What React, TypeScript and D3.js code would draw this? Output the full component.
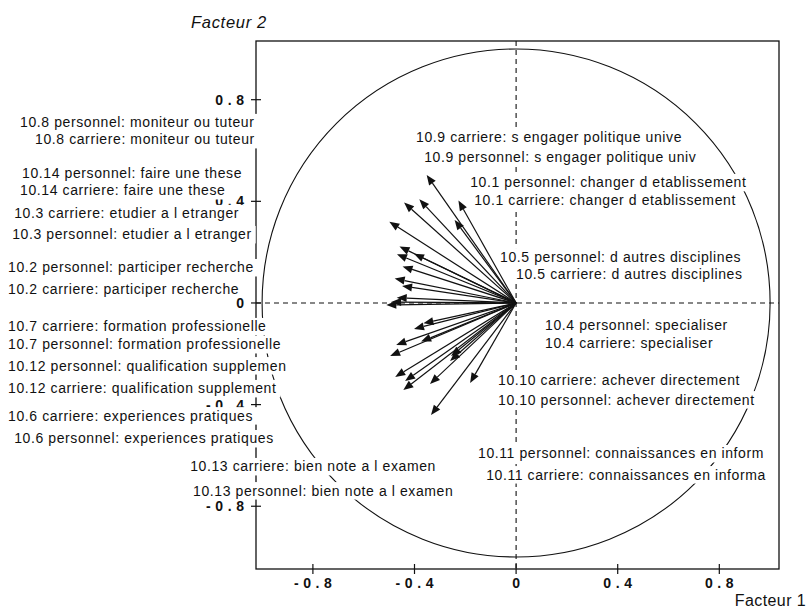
import React, { useEffect, useRef } from "react";
import * as d3 from "d3";

// Loadings of the 28 variables on factors 1 and 2
const loadF1 = [
  -0.352, -0.381, -0.441, -0.227, -0.242, -0.499, -0.459, -0.469, -0.402, -0.447,
  -0.478, -0.449, -0.47, -0.511, -0.492,
  -0.365, -0.402, -0.374, -0.472, -0.496, -0.256, -0.26, -0.476, -0.437, -0.444,
  -0.339, -0.181, -0.335,
];
const loadF2 = [
  0.504, 0.408, 0.395, 0.403, 0.327, 0.32, 0.222, 0.192, 0.194, 0.144,
  0.096, 0.067, 0.021, -0.008, 0.004,
  -0.08, -0.102, -0.152, -0.165, -0.209, -0.209, -0.228, -0.291, -0.307, -0.343,
  -0.319, -0.315, -0.441,
];

// Variable labels and their annotation anchors (in factor units)
const labelTexts = [
  "10.8 personnel: moniteur ou tuteur",
  "10.8 carriere: moniteur ou tuteur",
  "10.14 personnel: faire une these",
  "10.14 carriere: faire une these",
  "10.3 carriere: etudier a l etranger",
  "10.3 personnel: etudier a l etranger",
  "10.2 personnel: participer recherche",
  "10.2 carriere: participer recherche",
  "10.7 carriere: formation professionelle",
  "10.7 personnel: formation professionelle",
  "10.12 personnel: qualification supplemen",
  "10.12 carriere: qualification supplement",
  "10.6 carriere: experiences pratiques",
  "10.6 personnel: experiences pratiques",
  "10.13 carriere: bien note a l examen",
  "10.13 personnel: bien note a l examen",
  "10.9 carriere: s engager politique unive",
  "10.9 personnel: s engager politique univ",
  "10.1 personnel: changer d etablissement",
  "10.1 carriere: changer d etablissement",
  "10.5 personnel: d autres disciplines",
  "10.5 carriere: d autres disciplines",
  "10.4 personnel: specialiser",
  "10.4 carriere: specialiser",
  "10.10 carriere: achever directement",
  "10.10 personnel: achever directement",
  "10.11 personnel: connaissances en inform",
  "10.11 carriere: connaissances en informa",
];
const labelX = [
  -1.953, -1.894, -1.945, -1.953, -1.976, -1.984, -2.0, -2.0, -2.0, -2.0,
  -2.0, -2.0, -2.0, -1.976, -1.283, -1.272,
  -0.394, -0.362, -0.181, -0.165, -0.063, 0.0, 0.114, 0.114, -0.071, -0.071,
  -0.15, -0.118,
];
const labelY = [
  0.691, 0.624, 0.49, 0.423, 0.333, 0.25, 0.12, 0.037, -0.112, -0.183,
  -0.266, -0.356, -0.463, -0.553, -0.663, -0.758,
  0.632, 0.553, 0.455, 0.384, 0.163, 0.096, -0.108, -0.179, -0.321, -0.4,
  -0.612, -0.695,
];

const xTicks = [-0.8, -0.4, 0, 0.4, 0.8];
const yTicks = [-0.8, -0.4, 0, 0.4, 0.8];
const xTitle = "Facteur 1";
const yTitle = "Facteur 2";

const W = 809;
const H = 611;

export default function App() {
  const ref = useRef<SVGSVGElement | null>(null);

  useEffect(() => {
    const svg = d3.select(ref.current);
    svg.selectAll("*").remove();

    const x = d3.scaleLinear().domain([-1.024, 1.035]).range([256, 779]);
    const y = d3.scaleLinear().domain([-1.047, 1.031]).range([569, 41]);
    const unit = x(1) - x(0);

    // frame
    svg
      .append("rect")
      .attr("x", x(-1.024))
      .attr("y", y(1.031))
      .attr("width", x(1.035) - x(-1.024))
      .attr("height", y(-1.047) - y(1.031))
      .attr("fill", "none")
      .attr("stroke", "#111")
      .attr("stroke-width", 1.3);

    // unit circle
    svg
      .append("circle")
      .attr("cx", x(0))
      .attr("cy", y(0))
      .attr("r", unit)
      .attr("fill", "none")
      .attr("stroke", "#111")
      .attr("stroke-width", 1.1);

    // dashed axes through origin
    svg
      .append("line")
      .attr("x1", x(-1.024))
      .attr("x2", x(1.035))
      .attr("y1", y(0))
      .attr("y2", y(0))
      .attr("stroke", "#111")
      .attr("stroke-width", 1.1)
      .attr("stroke-dasharray", "5,4");
    svg
      .append("line")
      .attr("x1", x(0))
      .attr("x2", x(0))
      .attr("y1", y(1.031))
      .attr("y2", y(-1.047))
      .attr("stroke", "#111")
      .attr("stroke-width", 1.1)
      .attr("stroke-dasharray", "5,4");

    const fmt = (v: number) => (v === 0 ? "0" : d3.format(".1f")(v).replace("−", "-"));
    const tickFont = "'Liberation Sans', Arial, sans-serif";
    const tickLS = 4.6;

    // x ticks
    xTicks.forEach((t) => {
      svg
        .append("line")
        .attr("x1", x(t))
        .attr("x2", x(t))
        .attr("y1", y(-1.047) - 5)
        .attr("y2", y(-1.047) + 5)
        .attr("stroke", "#111")
        .attr("stroke-width", 1.2);
      svg
        .append("text")
        .attr("x", x(t) + tickLS / 2)
        .attr("y", y(-1.047) + 19)
        .attr("text-anchor", "middle")
        .attr("font-family", tickFont)
        .attr("font-weight", "bold")
        .attr("font-size", 14)
        .attr("letter-spacing", tickLS)
        .attr("fill", "#111")
        .text(fmt(t));
    });

    // y ticks
    yTicks.forEach((t) => {
      svg
        .append("line")
        .attr("x1", x(-1.024) - 5)
        .attr("x2", x(-1.024) + 5)
        .attr("y1", y(t))
        .attr("y2", y(t))
        .attr("stroke", "#111")
        .attr("stroke-width", 1.2);
      svg
        .append("text")
        .attr("x", x(-1.024) - 12 + tickLS)
        .attr("y", y(t) + 5)
        .attr("text-anchor", "end")
        .attr("font-family", tickFont)
        .attr("font-weight", "bold")
        .attr("font-size", 14)
        .attr("letter-spacing", tickLS)
        .attr("fill", "#111")
        .text(fmt(t));
    });

    // arrows
    const g = svg.append("g");
    loadF1.forEach((lx, i) => {
      const ly = loadF2[i];
      const x0 = x(0);
      const y0 = y(0);
      const x1 = x(lx);
      const y1 = y(ly);
      const dx = x1 - x0;
      const dy = y1 - y0;
      const len = Math.sqrt(dx * dx + dy * dy);
      const ux = dx / len;
      const uy = dy / len;
      const hl = 10;
      const hw = 4;
      const bx = x1 - ux * hl;
      const by = y1 - uy * hl;
      g.append("line")
        .attr("x1", x0)
        .attr("y1", y0)
        .attr("x2", bx)
        .attr("y2", by)
        .attr("stroke", "#111")
        .attr("stroke-width", 1.2);
      g.append("path")
        .attr(
          "d",
          d3.line()([
            [x1, y1],
            [bx - uy * hw, by + ux * hw],
            [bx + uy * hw, by - ux * hw],
          ]) + "Z"
        )
        .attr("fill", "#111");
    });

    // labels with white backgrounds
    const lg = svg.append("g");
    labelTexts.forEach((txt, i) => {
      const grp = lg.append("g");
      const rect = grp.append("rect").attr("fill", "#fff");
      const t = grp
        .append("text")
        .attr("x", x(labelX[i]))
        .attr("y", y(labelY[i]))
        .attr("font-family", "'Liberation Sans', Arial, sans-serif")
        .attr("font-size", 14)
        .attr("letter-spacing", 0.6)
        .attr("fill", "#111")
        .text(txt);
      const bb = (t.node() as SVGTextElement).getBBox();
      rect
        .attr("x", bb.x - 2)
        .attr("y", bb.y - 0.5)
        .attr("width", bb.width + 6)
        .attr("height", bb.height + 1.5);
    });

    // titles
    svg
      .append("text")
      .attr("x", x(-1.024) - 65)
      .attr("y", y(1.031) - 13)
      .attr("font-family", "'Liberation Sans', Arial, sans-serif")
      .attr("font-style", "italic")
      .attr("font-size", 16.5)
      .attr("letter-spacing", 0.7)
      .attr("fill", "#111")
      .text(yTitle);
    svg
      .append("text")
      .attr("x", W - 3)
      .attr("y", H - 5)
      .attr("text-anchor", "end")
      .attr("font-family", "'Liberation Sans', Arial, sans-serif")
      .attr("font-size", 16)
      .attr("letter-spacing", 0.4)
      .attr("fill", "#111")
      .text(xTitle);
  }, []);

  return (
    <div style={{ position: "absolute", left: 0, top: 0 }}>
      <svg ref={ref} width={W} height={H} style={{ display: "block", background: "#fff" }} />
    </div>
  );
}
